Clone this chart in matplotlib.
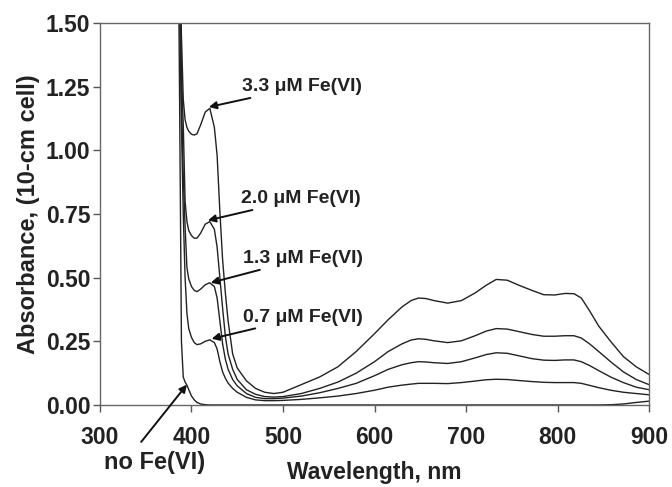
import matplotlib.pyplot as plt

plt.rcParams['font.family'] = ['Liberation Sans', 'DejaVu Sans']
plt.rcParams['font.weight'] = 'bold'

wavelength = [380, 384, 387, 389, 391, 393, 395, 397, 400, 403, 406, 410, 415, 420,
              425, 428, 431, 434, 437, 440, 445, 450, 460, 470, 480, 490, 500,
              520, 540, 560, 580,
              600, 615, 630, 640, 648, 656, 665, 680, 695, 710, 722, 733, 745, 758,
              772, 785, 797, 808, 818, 826, 835, 845, 858, 872, 886, 900]

fe_3_3 = [3.0, 2.5, 1.8, 1.45, 1.2, 1.12, 1.09, 1.075, 1.063, 1.06, 1.065, 1.10, 1.15, 1.165,
          1.09, 0.98, 0.76, 0.57, 0.44, 0.33, 0.20, 0.145, 0.095, 0.065, 0.05, 0.045, 0.05,
          0.08, 0.11, 0.15, 0.21,
          0.28, 0.335, 0.385, 0.41, 0.42, 0.418, 0.41, 0.40, 0.41, 0.44, 0.47, 0.493, 0.49, 0.47,
          0.45, 0.433, 0.432, 0.438, 0.437, 0.42, 0.37, 0.31, 0.25, 0.19, 0.15, 0.12]

fe_2_0 = [3.0, 2.5, 1.8, 1.3, 1.1, 0.8, 0.72, 0.685, 0.665, 0.655, 0.655, 0.675, 0.71, 0.72,
          0.69, 0.62, 0.50, 0.38, 0.27, 0.20, 0.14, 0.10, 0.06, 0.042, 0.033, 0.031, 0.033,
          0.045, 0.065, 0.09, 0.125,
          0.17, 0.21, 0.24, 0.255, 0.26, 0.258, 0.252, 0.245, 0.252, 0.272, 0.29, 0.30, 0.298, 0.288,
          0.277, 0.27, 0.27, 0.272, 0.272, 0.263, 0.24, 0.21, 0.17, 0.13, 0.10, 0.08]

fe_1_3 = [3.0, 2.5, 1.7, 1.2, 0.9, 0.7, 0.54, 0.495, 0.465, 0.45, 0.445, 0.455, 0.472, 0.48,
          0.465, 0.42, 0.33, 0.24, 0.18, 0.14, 0.10, 0.075, 0.045, 0.03, 0.025, 0.025, 0.027,
          0.035, 0.048, 0.065, 0.085,
          0.115, 0.14, 0.158, 0.166, 0.17, 0.169, 0.166, 0.163, 0.17, 0.185, 0.198, 0.205, 0.203, 0.193,
          0.182, 0.176, 0.175, 0.177, 0.177, 0.17, 0.155, 0.135, 0.11, 0.088, 0.07, 0.06]

fe_0_7 = [3.0, 2.5, 1.6, 1.1, 0.75, 0.5, 0.36, 0.30, 0.265, 0.245, 0.237, 0.24, 0.25, 0.256,
          0.245, 0.22, 0.17, 0.13, 0.105, 0.086, 0.065, 0.05, 0.03, 0.02, 0.017, 0.017, 0.018,
          0.022, 0.028, 0.035, 0.045,
          0.058, 0.07, 0.078, 0.082, 0.085, 0.085, 0.085, 0.084, 0.088, 0.094, 0.099, 0.101, 0.10, 0.096,
          0.092, 0.089, 0.088, 0.088, 0.088, 0.085, 0.077, 0.068, 0.058, 0.05, 0.045, 0.04]

no_fe = [3.0, 2.5, 1.2, 0.25, 0.11, 0.09, 0.078, 0.06, 0.035, 0.02, 0.01, 0.004, 0.001, 0,
         0, 0, 0, 0, 0, 0, 0, 0, 0, 0, 0, 0, 0,
         0, 0, 0, 0,
         0, 0, 0, 0, 0, 0, 0, 0, 0, 0, 0, 0, 0, 0,
         0, 0, 0, 0, 0, 0, 0, 0, 0.001, 0.004, 0.01, 0.015]

series = [fe_3_3, fe_2_0, fe_1_3, fe_0_7, no_fe]

labels = ['3.3 μM Fe(VI)', '2.0 μM Fe(VI)', '1.3 μM Fe(VI)', '0.7 μM Fe(VI)']
label_tips = [(419, 1.17), (418, 0.725), (421, 0.48), (422, 0.26)]
label_text = [(455, 1.25), (454, 0.81), (456, 0.575), (456, 0.345)]

fig = plt.figure(figsize=(6.72, 4.87), dpi=100)
ax = fig.add_axes([0.1488, 0.1684, 0.817, 0.7844])

for s in series:
    ax.plot(wavelength, s, color='#222222', lw=1.0)

arrow = dict(arrowstyle='-|>', color='#111111', lw=1.4, mutation_scale=11,
             shrinkA=0, shrinkB=0)
for lab, tip, txt in zip(labels, label_tips, label_text):
    ax.annotate(lab, xy=tip, xytext=txt, fontsize=14, fontweight='bold',
                color='#222222', ha='left', va='center', arrowprops=arrow)

# "no Fe(VI)" label below the axis, arrow drawn separately
ax.text(360, -0.225, 'no Fe(VI)', fontsize=17, fontweight='bold', color='#222222',
        ha='center', va='center', clip_on=False)
ax.annotate('', xy=(395, 0.08), xytext=(345, -0.145), annotation_clip=False,
            arrowprops=arrow)

ax.set_xlim(300, 900)
ax.set_ylim(0, 1.5)
ax.set_xticks([300, 400, 500, 600, 700, 800, 900])
ax.set_yticks([0, 0.25, 0.5, 0.75, 1.0, 1.25, 1.5])
ax.set_yticklabels(['0.00', '0.25', '0.50', '0.75', '1.00', '1.25', '1.50'])
ax.tick_params(direction='out', length=5, width=1, color='#555555',
               labelsize=16.5, labelcolor='#222222')
ax.tick_params(axis='x', pad=10)
ax.tick_params(axis='y', pad=2)
for sp in ax.spines.values():
    sp.set_color('#666666')
    sp.set_linewidth(1.0)

ax.set_xlabel('Wavelength, nm', fontsize=16.5, fontweight='bold', color='#222222', labelpad=9)
ax.set_ylabel('Absorbance, (10-cm cell)', fontsize=17, fontweight='bold', color='#222222', labelpad=4)

fig.savefig('out.png', dpi=100)
